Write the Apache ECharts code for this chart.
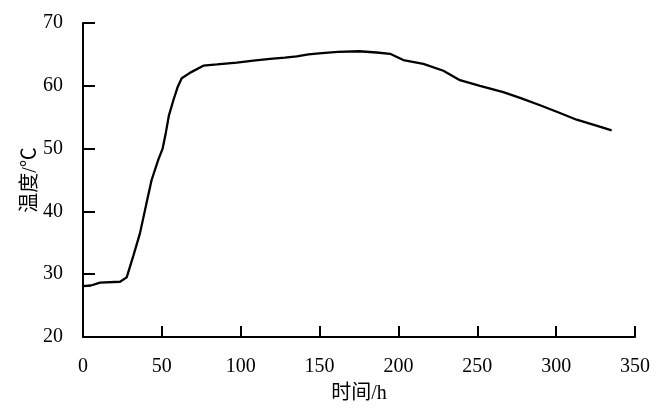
<!DOCTYPE html>
<html>
<head>
<meta charset="utf-8">
<script src="https://cdn.jsdelivr.net/npm/echarts@6/dist/echarts.min.js"></script>
<style>
  html, body { margin: 0; padding: 0; background: #ffffff; }
  #chart { width: 670px; height: 412px; }
</style>
</head>
<body>
<div id="chart"></div>
<script>
  // time (h) and temperature (°C)
  const hours = [0, 5, 10.8, 23.5, 27.7, 32, 36.1, 40, 43.5, 47.7, 50.5, 52.5, 54.5, 57.3, 60, 62.6, 68, 76.3,
    85, 97.5, 108, 118.6, 128, 135.5, 143, 151.4, 161.7, 175, 186.2, 194.7, 203.1, 215.8, 228.5,
    239, 251.7, 266.5, 278, 289.8, 302, 313, 325, 335.2]
  const temps = [28.1, 28.2, 28.65, 28.8, 29.5, 33, 36.5, 41, 45.0, 48.2, 50.0, 52.5, 55.3, 57.7, 59.8, 61.2, 62.1, 63.2,
    63.4, 63.7, 64.0, 64.3, 64.5, 64.7, 65.0, 65.2, 65.4, 65.5, 65.3, 65.1, 64.1, 63.5, 62.4,
    60.9, 60.0, 59.0, 58.0, 56.9, 55.7, 54.6, 53.7, 52.9]

  const fontFamily = '"Liberation Serif", "Noto Sans CJK SC", serif'

  const chart = echarts.init(document.getElementById('chart'))
  chart.setOption({
    animation: false,
    grid: {
      left: 83,
      top: 23,
      right: 35,
      bottom: 75
    },
    xAxis: {
      type: 'value',
      min: 0,
      max: 350,
      interval: 50,
      name: '时间/h',
      nameLocation: 'middle',
      nameGap: 47,
      nameTextStyle: { color: '#000', fontSize: 20, fontFamily: fontFamily },
      axisLine: { lineStyle: { color: '#000', width: 2 } },
      axisTick: { inside: true, length: 11, lineStyle: { color: '#000', width: 2 } },
      axisLabel: { color: '#000', fontSize: 20, fontFamily: fontFamily, margin: 20 },
      splitLine: { show: false }
    },
    yAxis: {
      type: 'value',
      min: 20,
      max: 70,
      interval: 10,
      name: '温度/℃',
      nameLocation: 'middle',
      nameGap: 42,
      nameRotate: 90,
      nameMoveOverlap: false,
      nameTextStyle: { color: '#000', fontSize: 20, fontFamily: fontFamily },
      axisLine: { show: true, lineStyle: { color: '#000', width: 2 } },
      axisTick: { show: true, inside: true, length: 12, lineStyle: { color: '#000', width: 2 } },
      axisLabel: { color: '#000', fontSize: 20, fontFamily: fontFamily, margin: 20 },
      splitLine: { show: false }
    },
    series: [
      {
        type: 'line',
        data: hours.map((h, i) => [h, temps[i]]),
        showSymbol: false,
        lineStyle: { color: '#000', width: 2.3 }
      }
    ]
  })
</script>
</body>
</html>
